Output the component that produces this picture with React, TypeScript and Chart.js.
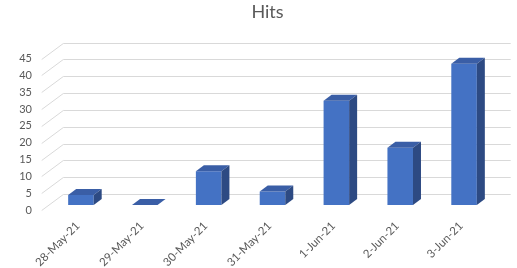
import React, { useEffect, useRef } from "react";
import { Chart, registerables } from "chart.js";

Chart.register(...registerables);

const categories = ["28-May-21", "29-May-21", "30-May-21", "31-May-21", "1-Jun-21", "2-Jun-21", "3-Jun-21"];
const hits = [3, 0, 10, 4, 31, 17, 42];
const yTicks = [0, 5, 10, 15, 20, 25, 30, 35, 40, 45];

const FRONT = "#4472C4";
const TOP = "#3A5EA6";
const SIDE = "#2D4A83";
const GRID = "#D9D9D9";
const TEXT = "#595959";
const FONT = "Lato";

const DX = 8;
const DY = 6;

const wall3d = {
  id: "wall3d",
  beforeDatasetsDraw(chart: any) {
    const { ctx, chartArea, scales } = chart;
    const y = scales.y;
    ctx.save();
    ctx.strokeStyle = GRID;
    ctx.lineWidth = 1;
    const fx = chartArea.left - 7.3;
    const bx = chartArea.left + 14.3;
    const rx = chartArea.right + 14.7;
    yTicks.forEach((v) => {
      const yb = Math.round(y.getPixelForValue(v));
      ctx.beginPath();
      ctx.moveTo(fx, yb + 5 + 0.5);
      ctx.lineTo(bx, yb - 11 + 0.5);
      ctx.lineTo(rx, yb - 11 + 0.5);
      ctx.stroke();
    });
    ctx.restore();
  },
  afterDatasetsDraw(chart: any) {
    const { ctx } = chart;
    const meta = chart.getDatasetMeta(0);
    ctx.save();
    meta.data.forEach((bar: any) => {
      const w = bar.width;
      const l = bar.x - w / 2;
      const r = bar.x + w / 2;
      const t = bar.y;
      const b = bar.base;
      ctx.fillStyle = TOP;
      ctx.beginPath();
      ctx.moveTo(l, t);
      ctx.lineTo(r, t);
      ctx.lineTo(r + DX, t - DY);
      ctx.lineTo(l + DX, t - DY);
      ctx.closePath();
      ctx.fill();
      if (b - t > 0.5) {
        ctx.fillStyle = SIDE;
        ctx.beginPath();
        ctx.moveTo(r, t);
        ctx.lineTo(r + DX, t - DY);
        ctx.lineTo(r + DX, b - DY);
        ctx.lineTo(r, b);
        ctx.closePath();
        ctx.fill();
      }
    });
    ctx.restore();
  },
};

export default function App() {
  const ref = useRef<HTMLCanvasElement | null>(null);
  useEffect(() => {
    document.body.style.margin = "0";
    const canvas = ref.current;
    if (!canvas) return;
    const chart = new Chart(canvas, {
      type: "bar",
      data: {
        labels: categories,
        datasets: [
          {
            label: "Hits",
            data: hits,
            backgroundColor: FRONT,
            borderWidth: 0,
            barPercentage: 0.4,
            categoryPercentage: 1,
          },
        ],
      },
      options: {
        animation: false,
        responsive: false,
        layout: { padding: { left: 18, right: 0, top: 0, bottom: 0 } },
        plugins: {
          legend: { display: false },
          tooltip: { enabled: false },
          title: {
            display: true,
            text: "Hits",
            color: TEXT,
            font: { family: FONT, size: 18, weight: "normal" },
            padding: { top: 1, bottom: 31 },
          },
        },
        scales: {
          x: {
            grid: { display: false, drawTicks: false },
            border: { display: false },
            ticks: {
              color: TEXT,
              font: { family: FONT, size: 11.5 },
              minRotation: 45,
              maxRotation: 45,
              padding: 14,
              labelOffset: -3,
              autoSkip: false,
            },
            afterFit(s: any) {
              s.height = 63;
            },
          },
          y: {
            min: 0,
            max: 45,
            grid: { display: false, drawTicks: false },
            border: { display: false },
            ticks: {
              stepSize: 5,
              color: TEXT,
              font: { family: FONT, size: 11 },
              padding: 17,
              labelOffset: 5,
            },
            afterFit(s: any) {
              s.width = 31;
            },
          },
          y2: {
            position: "right",
            display: true,
            grid: { display: false, drawTicks: false },
            border: { display: false },
            ticks: { display: false },
            afterFit(s: any) {
              s.width = 21;
            },
          },
        },
      },
      plugins: [wall3d],
    });
    return () => chart.destroy();
  }, []);
  return (
    <div style={{ width: 517, height: 268 }}>
      <canvas ref={ref} width={517} height={268} />
    </div>
  );
}
